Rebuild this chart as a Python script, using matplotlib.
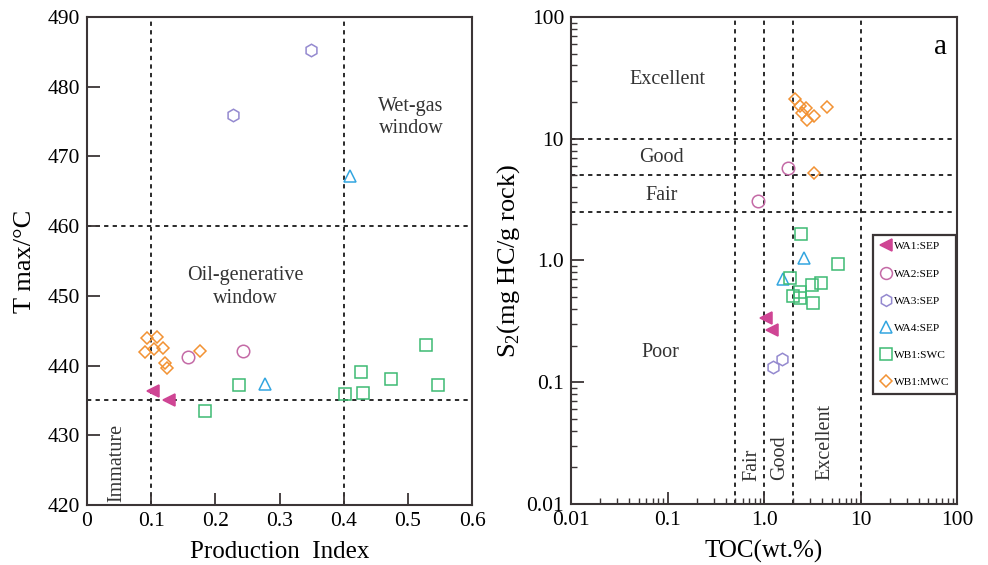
import numpy as np
import matplotlib
matplotlib.use("Agg")
import matplotlib.pyplot as plt
from matplotlib.ticker import LogLocator, FixedLocator, NullFormatter

plt.rcParams['font.family'] = ['Liberation Serif', 'DejaVu Serif']
plt.rcParams['mathtext.fontset'] = 'custom'
plt.rcParams['mathtext.rm'] = 'Liberation Serif'

# ---- left panel data: production index vs Tmax
wa1_pi = [0.103, 0.128]
wa1_tmax = [436.3, 435.0]
wa2_pi = [0.157, 0.243]
wa2_tmax = [441.2, 442.1]
wa3_pi = [0.227, 0.349]
wa3_tmax = [476.0, 485.2]
wa4_pi = [0.410, 0.277]
wa4_tmax = [467.2, 437.3]
swc_pi = [0.184, 0.237, 0.402, 0.430, 0.427, 0.473, 0.528, 0.547]
swc_tmax = [433.5, 437.2, 435.9, 436.0, 439.1, 438.1, 443.0, 437.2]
mwc_pi = [0.094, 0.109, 0.090, 0.104, 0.118, 0.176, 0.121, 0.125]
mwc_tmax = [443.9, 444.1, 441.9, 442.4, 442.5, 442.1, 440.3, 439.6]

# ---- right panel data: TOC vs S2
wa1_toc = [1.04, 1.20]
wa1_s2 = [0.34, 0.27]
wa2_toc = [1.76, 0.86]
wa2_s2 = [5.75, 3.05]
wa3_toc = [1.53, 1.23]
wa3_s2 = [0.155, 0.133]
wa4_toc = [2.58, 1.57]
wa4_s2 = [1.05, 0.70]
swc_toc = [2.40, 5.8, 1.85, 2.35, 3.12, 3.87, 1.99, 2.35, 3.2]
swc_s2 = [1.65, 0.93, 0.72, 0.55, 0.63, 0.65, 0.51, 0.49, 0.45]
mwc_toc = [3.28, 2.08, 2.35, 2.71, 2.5, 3.28, 2.77, 4.47]
mwc_s2 = [5.2, 21.0, 18.6, 17.9, 16.3, 15.4, 14.3, 18.2]

labels = ['WA1:SEP', 'WA2:SEP', 'WA3:SEP', 'WA4:SEP', 'WB1:SWC', 'WB1:MWC']

styles = [
    dict(marker='<', color='#cf4594', mfc='#cf4594', ms=8.5),
    dict(marker='o', color='#c46aa6', mfc='none', ms=9),
    dict(marker='h', color='#9489cf', mfc='none', ms=9),
    dict(marker='^', color='#33a6e0', mfc='none', ms=9),
    dict(marker='s', color='#3dba73', mfc='none', ms=9),
    dict(marker='D', color='#f29233', mfc='none', ms=6.5),
]

spine_c = '#3b3536'
txt_c = '#333333'
dash = dict(color='#2a2a2a', lw=1.4, ls=(0, (2.2, 2.2)), zorder=1)

fig = plt.figure(figsize=(9.88, 5.65), dpi=100)
ax1 = fig.add_axes([0.0881, 0.1062, 0.3897, 0.8637])
ax2 = fig.add_axes([0.578, 0.108, 0.3907, 0.862])

# ---- left panel
left_sets = [(wa1_pi, wa1_tmax), (wa2_pi, wa2_tmax), (wa3_pi, wa3_tmax),
             (wa4_pi, wa4_tmax), (swc_pi, swc_tmax), (mwc_pi, mwc_tmax)]
for (x, y), st, lab in zip(left_sets, styles, labels):
    ax1.plot(x, y, ls='none', mew=1.1, label=lab, zorder=3, **st)

for v in [0.1, 0.4]:
    ax1.axvline(v, **dash)
for h in [460, 435]:
    ax1.axhline(h, **dash)

ax1.set_xlim(0, 0.6)
ax1.set_ylim(420, 490)
ax1.set_xticks(np.arange(0, 0.61, 0.1))
ax1.set_xticklabels(['0', '0.1', '0.2', '0.3', '0.4', '0.5', '0.6'])
ax1.set_yticks(np.arange(420, 491, 10))
ax1.tick_params(direction='in', length=9, width=1.3, color=spine_c,
                labelsize=15.5, pad=5)
ax1.set_xlabel('Production  Index', fontsize=18, labelpad=7)
ax1.set_ylabel('T max/°C', fontsize=19, labelpad=8)

ax1.text(0.505, 475.6, 'Wet-gas\nwindow', fontsize=14.5, ha='center',
         va='center', color=txt_c, linespacing=1.25)
ax1.text(0.246, 451.3, 'Oil-generative\nwindow', fontsize=14.5, ha='center',
         va='center', color=txt_c, linespacing=1.25)
ax1.text(0.046, 426.0, 'Immature', fontsize=14.5, ha='center', va='center',
         rotation=90, color=txt_c)

# ---- right panel
right_sets = [(wa1_toc, wa1_s2), (wa2_toc, wa2_s2), (wa3_toc, wa3_s2),
              (wa4_toc, wa4_s2), (swc_toc, swc_s2), (mwc_toc, mwc_s2)]
for (x, y), st, lab in zip(right_sets, styles, labels):
    ax2.plot(x, y, ls='none', mew=1.1, label=lab, zorder=3, **st)

for v in [0.5, 1.0, 2.0, 10]:
    ax2.axvline(v, **dash)
for h in [2.5, 5, 10]:
    ax2.axhline(h, **dash)

ax2.set_xscale('log')
ax2.set_yscale('log')
ax2.set_xlim(0.01, 100)
ax2.set_ylim(0.01, 100)
dec = [0.01, 0.1, 1.0, 10, 100]
dec_lab = ['0.01', '0.1', '1.0', '10', '100']
ax2.xaxis.set_major_locator(FixedLocator(dec))
ax2.yaxis.set_major_locator(FixedLocator(dec))
ax2.set_xticklabels(dec_lab)
ax2.set_yticklabels(dec_lab)
ax2.xaxis.set_minor_locator(LogLocator(base=10, subs=np.arange(2, 10)))
ax2.yaxis.set_minor_locator(LogLocator(base=10, subs=np.arange(2, 10)))
ax2.xaxis.set_minor_formatter(NullFormatter())
ax2.yaxis.set_minor_formatter(NullFormatter())
ax2.tick_params(which='major', direction='in', length=9, width=1.3,
                color=spine_c, labelsize=15.5, pad=5)
ax2.tick_params(which='minor', direction='in', length=4.5, width=1.0,
                color=spine_c)
ax2.set_xlabel('TOC(wt.%)', fontsize=18, labelpad=7)
ax2.set_ylabel(r'S$_\mathregular{2}$(mg HC/g rock)', fontsize=19, labelpad=3)

ax2.text(0.099, 30.4, 'Excellent', fontsize=14.5, ha='center', va='center',
         color=txt_c)
ax2.text(0.087, 6.95, 'Good', fontsize=14.5, ha='center', va='center',
         color=txt_c)
ax2.text(0.087, 3.39, 'Fair', fontsize=14.5, ha='center', va='center',
         color=txt_c)
ax2.text(0.085, 0.174, 'Poor', fontsize=14.5, ha='center', va='center',
         color=txt_c)
ax2.text(0.75, 0.021, 'Fair', fontsize=14.5, ha='center', va='center',
         rotation=90, color=txt_c)
ax2.text(1.46, 0.024, 'Good', fontsize=14.5, ha='center', va='center',
         rotation=90, color=txt_c)
ax2.text(4.26, 0.032, 'Excellent', fontsize=14.5, ha='center', va='center',
         rotation=90, color=txt_c)
ax2.text(0.975, 0.965, 'a', transform=ax2.transAxes, fontsize=21,
         ha='right', va='top')

leg = ax2.legend(loc='upper right', bbox_to_anchor=(0.998, 0.553),
                 borderaxespad=0, fontsize=8.2, frameon=True, fancybox=False,
                 edgecolor=spine_c, labelspacing=1.5, handletextpad=0.2,
                 handlelength=1.0, borderpad=0.6, markerscale=0.95)
leg.get_frame().set_linewidth(1.6)
leg.get_frame().set_alpha(1)

for ax in (ax1, ax2):
    for s in ax.spines.values():
        s.set_color(spine_c)
        s.set_linewidth(1.5)

fig.savefig('out.png', dpi=100)
